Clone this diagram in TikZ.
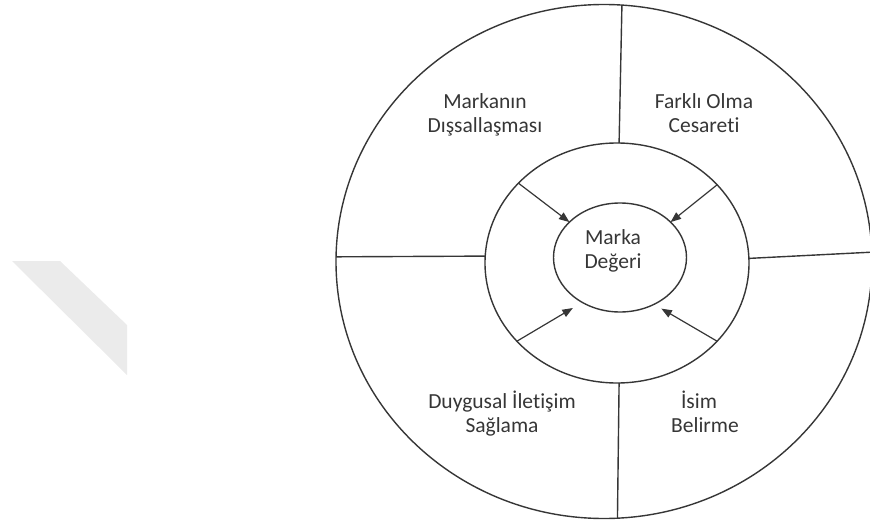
\documentclass[tikz,border=0pt]{standalone}
\usepackage{fontspec}
\setmainfont{Carlito}[Ligatures=NoCommon]
\usetikzlibrary{shapes.geometric,arrows.meta}
\definecolor{ink}{HTML}{363636}
\definecolor{bandgray}{HTML}{EBEBEB}
\begin{document}
\begin{tikzpicture}[x=1pt,y=-1pt,
  ring/.style={ellipse, draw=ink, line width=1.4pt, inner sep=0pt, outer sep=0pt},
  divider/.style={draw=ink, line width=1.4pt},
  feed/.style={draw=ink, line width=1.2pt, -{Triangle[length=10.5pt,width=8pt]}},
  label/.style={font=\fontsize{21.5}{24}\selectfont, text=ink, align=center, inner sep=0pt, anchor=base}]
\useasboundingbox (0,0) rectangle (870,524);
\clip (0,0) rectangle (870,524);
% light band on the left
\fill[bandgray] (12,261) -- (60,261) -- (127,325) -- (127,375) -- cycle;
% three rings
\node[ring, minimum width=536pt, minimum height=514pt] (outer) at (604,261.5) {};
\node[ring, minimum width=264pt, minimum height=240pt] (middle) at (617,263) {};
\node[ring, minimum width=133pt, minimum height=109pt] (inner) at (620,257.5) {};
% dividers of the outer ring
\draw[divider] (middle.89) -- (outer.86.4);
\draw[divider] (middle.271.4) -- (outer.273.8);
\draw[divider] (middle.177.4) -- (outer.179.25);
\draw[divider] (middle.2.2) -- (outer.2.1);
% arrows into the centre
\draw[feed] (middle.141.8) -- (inner.145.7);
\draw[feed] (middle.38) -- (inner.35.4);
\draw[feed, shorten >=11pt] (middle.218.6) -- (inner.230.2);
\draw[feed, shorten >=8.5pt] (middle.322) -- (inner.306.1);
% labels (base anchor sits on the last line)
\node[label] (ext) at (485,132) {Markanın\\Dışsallaşması};
\node[label] (diff) at (704,132) {Farklı Olma\\Cesareti};
\node[label] (value) at (613,268) {Marka\\Değeri};
\node[label] (emo) at (502,432) {Duygusal İletişim\\Sağlama};
\node[label] (name) at (705,432) {İsim\kern12pt\\Belirme};
\end{tikzpicture}
\end{document}
